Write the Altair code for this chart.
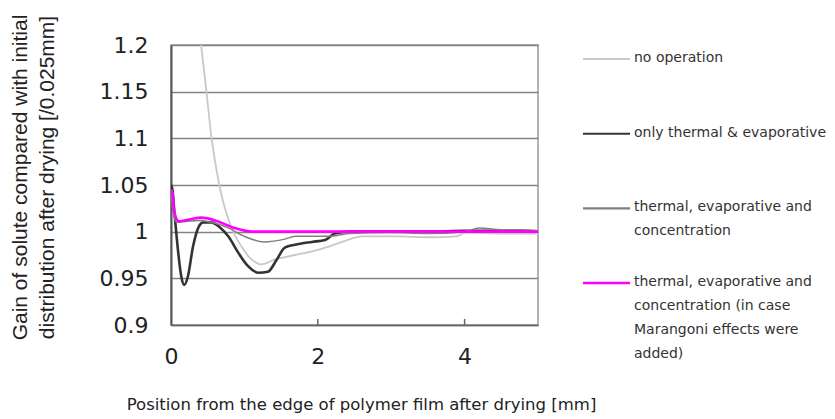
import altair as alt
import pandas as pd

# ---------------- data ----------------
series_names = [
    "no operation",
    "only thermal & evaporative",
    "thermal, evaporative and concentration",
    "thermal, evaporative and concentration (in case Marangoni effects were added)",
]
legend_text = [
    "no operation",
    "only thermal & evaporative",
    "thermal, evaporative and\nconcentration",
    "thermal, evaporative and\nconcentration (in case\nMarangoni effects were\nadded)",
]
colors = ["#c8c8c8", "#333333", "#808080", "#ff00ff"]
widths = [1.8, 2.6, 1.5, 2.6]

x_none = [0.30, 0.33, 0.41, 0.48, 0.55, 0.62, 0.68, 0.75, 0.82, 0.96, 1.10, 1.23, 1.41, 1.69, 1.92,
          2.15, 2.33, 2.60, 3.05, 3.52, 3.89, 4.01, 4.50, 5.00]
y_none = [1.30, 1.26, 1.20, 1.152, 1.102, 1.066, 1.042, 1.021, 1.005, 0.984, 0.970, 0.965, 0.970,
          0.975, 0.979, 0.984, 0.989, 0.995, 0.995, 0.994, 0.995, 0.999, 0.998, 0.998]

x_te = [0.0, 0.02, 0.04, 0.09, 0.14, 0.18, 0.23, 0.30, 0.37, 0.44, 0.55, 0.66, 0.78, 0.92, 1.05,
        1.19, 1.32, 1.44, 1.55, 1.69, 1.92, 2.10, 2.23, 2.42, 3.0, 3.5, 4.0, 4.5, 5.0]
y_te = [1.05, 1.045, 1.027, 0.984, 0.952, 0.943, 0.952, 0.984, 1.004, 1.010, 1.010, 1.005, 0.995,
        0.977, 0.963, 0.956, 0.957, 0.970, 0.983, 0.986, 0.989, 0.991, 0.998, 1.0, 1.0, 1.0,
        1.001, 1.001, 1.0]

x_tec = [0.0, 0.03, 0.08, 0.2, 0.4, 0.6, 0.78, 1.0, 1.27, 1.55, 1.69, 2.15, 2.42, 3.0, 3.5, 4.0,
         4.2, 4.5, 4.8, 5.0]
y_tec = [1.045, 1.02, 1.01, 1.011, 1.012, 1.009, 1.004, 0.995, 0.989, 0.992, 0.995, 0.995, 0.998,
         0.999, 0.998, 1.0, 1.004, 1.002, 1.002, 1.001]

x_mar = [0.0, 0.02, 0.04, 0.11, 0.25, 0.41, 0.64, 0.86, 1.1, 1.5, 2.0, 3.0, 4.0, 5.0]
y_mar = [1.045, 1.042, 1.023, 1.011, 1.013, 1.015, 1.011, 1.004, 1.0, 1.0, 1.0, 1.0, 1.0, 1.0]

x_ticks = [0, 2, 4]
y_ticks = [0.9, 0.95, 1.0, 1.05, 1.1, 1.15, 1.2]
inner_ticks = [2, 4]

x_title = "Position from the edge of polymer film after drying [mm]"
y_title = ["Gain of solute compared with initial", "distribution after drying [/0.025mm]"]

# ---------------- build ----------------
xs = [x_none, x_te, x_tec, x_mar]
ys = [y_none, y_te, y_tec, y_mar]

x_enc = alt.X(
    "x:Q",
    scale=alt.Scale(domain=[0, 5], nice=False),
    axis=alt.Axis(
        values=x_ticks, format="d", grid=False, ticks=False, labelFlush=False,
        domainColor="#666666", domainWidth=1.5,
        labelPadding=21, labelFont="DejaVu Sans", labelFontSize=22, labelColor="#222222",
        title=x_title, titleFont="DejaVu Sans", titleFontSize=16.5, titleFontWeight="normal",
        titleColor="#222222", titlePadding=29, titleX=190, titleAlign="center",
    ),
)
y_enc = alt.Y(
    "y:Q",
    scale=alt.Scale(domain=[0.9, 1.2], nice=False, zero=False),
    axis=alt.Axis(
        values=y_ticks, format="~g", grid=True, gridColor="#848484", gridWidth=1.6,
        ticks=False, labelFlush=False, domainColor="#555555", domainWidth=2,
        labelPadding=23, labelFont="DejaVu Sans", labelFontSize=22, labelColor="#222222",
        title=y_title, titleFont="Liberation Sans", titleFontSize=21, titleFontWeight="normal",
        titleColor="#222222", titleAngle=270, titleBaseline="top", titleAlign="center",
        titleX=-162, titleY=132, titleLineHeight=27,
    ),
)

layers = []
for name, xv, yv, col, w in zip(series_names, xs, ys, colors, widths):
    df = pd.DataFrame({"x": xv, "y": yv, "series": name})
    layers.append(
        alt.Chart(df).mark_line(color=col, strokeWidth=w, interpolate="monotone", clip=True)
        .encode(x=x_enc, y=y_enc)
    )

tick_df = pd.DataFrame({"x": inner_ticks})
tick_layer = alt.Chart(tick_df).mark_rule(color="#666666", strokeWidth=1.5).encode(
    x=alt.X("x:Q"), y=alt.value(280), y2=alt.value(274)
)

main = alt.layer(*layers, tick_layer).properties(
    width=367, height=280,
    view=alt.ViewBackground(stroke="#999999", strokeWidth=1.5),
)

leg_df = pd.DataFrame({"series": series_names, "label": legend_text})
leg_y = alt.Y("series:N", scale=alt.Scale(type="point", domain=series_names, range=[14, 238], padding=0), axis=None)
leg_rules = alt.Chart(leg_df).mark_rule().encode(
    x=alt.value(0), x2=alt.value(47), y=leg_y,
    color=alt.Color("series:N", scale=alt.Scale(domain=series_names, range=colors), legend=None),
    strokeWidth=alt.StrokeWidth("series:N", scale=alt.Scale(domain=series_names, range=widths), legend=None),
)
leg_text = alt.Chart(leg_df).mark_text(
    align="left", baseline="top", dy=-8, lineBreak="\n", lineHeight=24,
    font="DejaVu Sans", fontSize=14, color="#333333",
).encode(x=alt.value(51), y=leg_y, text="label:N")

legend = alt.layer(leg_rules, leg_text).properties(
    width=190, height=280, view=alt.ViewBackground(stroke="transparent")
)

chart = alt.hconcat(main, legend, spacing=45, bounds="flush").properties(
    padding={"top": 5, "left": 0, "right": 0, "bottom": 0},
    background="white",
).configure_view(stroke="transparent")

chart.save("out.html", embed_options={"renderer": "svg", "actions": False})
